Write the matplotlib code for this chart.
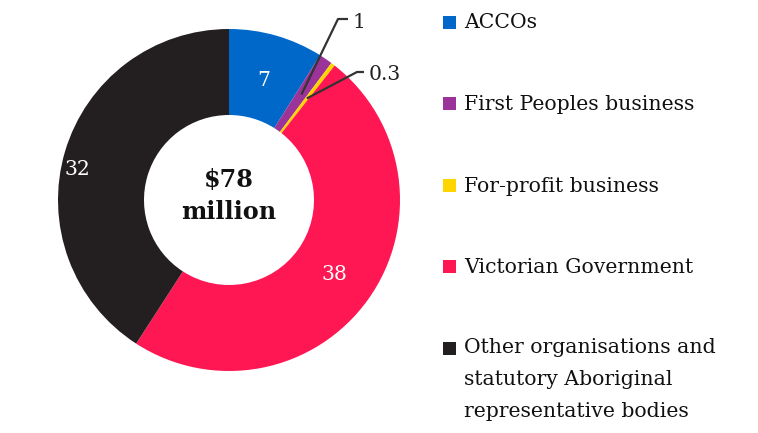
import numpy as np
import matplotlib
matplotlib.use("Agg")
import matplotlib.pyplot as plt
from matplotlib.patches import Rectangle

categories = ['ACCOs', 'First Peoples business', 'For-profit business',
              'Victorian Government',
              'Other organisations and\nstatutory Aboriginal\nrepresentative bodies']
values = [7, 1, 0.3, 38, 32]
value_labels = ['7', '1', '0.3', '38', '32']
total_label = '$78\nmillion'

colors = ['#0068C9', '#9B3399', '#FFD500', '#FF1753', '#231F20']

W, H = 758, 433
plt.rcParams['font.family'] = ['DejaVu Serif']
fig = plt.figure(figsize=(W / 100, H / 100), dpi=100)
ax = fig.add_axes([0, 0, 1, 1])

cx, cy = 229, H - 200
R = 171
ring = 86
wedges, _ = ax.pie(values, colors=colors, startangle=90, counterclock=False,
                   radius=R, center=(cx, cy),
                   wedgeprops=dict(width=ring, edgecolor='none', linewidth=0))
ax.set_xlim(0, W)
ax.set_ylim(0, H)
ax.set_aspect('equal')
ax.axis('off')

def mid_point(w, r, off=0.0):
    a = np.deg2rad((w.theta1 + w.theta2) / 2 + off)
    return cx + r * np.cos(a), cy + r * np.sin(a)

fs = 14.7
# inside labels: (radius, angle offset)
inside = {0: (124, 0), 3: (129, 0), 4: (155, 5)}
for i, (r, off) in inside.items():
    x, y = mid_point(wedges[i], r, off)
    ax.text(x, y, value_labels[i], color='white', fontsize=fs,
            ha='center', va='center')

# callouts for small slices
callouts = {1: ((338, 19), (348, 19)), 2: ((357, 72), (364, 72))}
for i, (elbow, end) in callouts.items():
    x0, y0 = mid_point(wedges[i], 128)
    ax.plot([x0, elbow[0], end[0]], [y0, H - elbow[1], H - end[1]],
            color='#333333', lw=1.6, solid_capstyle='butt')
    ax.text(end[0] + 5, H - end[1] - 3, value_labels[i], color='#222222',
            fontsize=fs, ha='left', va='center')

# centre text
ax.text(cx, cy + 4, total_label, fontsize=17.2, fontweight='bold',
        ha='center', va='center', color='#111111', linespacing=1.42)

# legend
for i, (lab, col) in enumerate(zip(categories, colors)):
    yt = 22 + i * 81.5
    ax.add_patch(Rectangle((443, H - yt - 6.5), 13, 13, color=col, lw=0))
    if '\n' in lab:
        ax.text(464, H - yt + 10, lab, fontsize=fs, ha='left', va='top',
                color='#111111', linespacing=1.88)
    else:
        ax.text(464, H - yt + 1, lab, fontsize=fs, ha='left',
                va='center_baseline', color='#111111')

fig.savefig('out.png', dpi=100)
